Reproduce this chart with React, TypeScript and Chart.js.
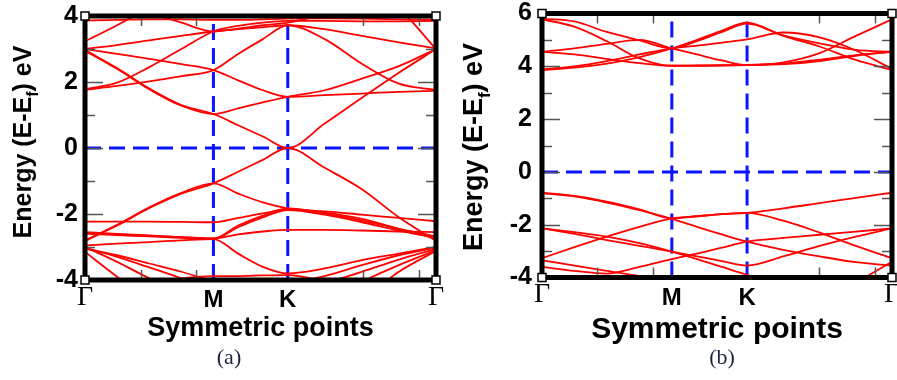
import React, { useEffect, useRef } from 'react';
import { Chart, registerables } from 'chart.js';

Chart.register(...registerables);

// ---------- axes / path ----------
const symLabels = ['Γ', 'M', 'K', 'Γ'];
const symKA = [0, 0.577, 0.911, 1.577];
const symKB = [0, 0.585, 0.924, 1.577];
const xMinorTicks = [0.25, 0.5, 1.25, 1.5];
const yTicksA = [-4, -2, 0, 2, 4];
const yTicksB = [-4, -2, 0, 2, 4, 6];

// k sampling along Γ-M-K-Γ
const kGridA = [0, 0.144, 0.289, 0.433, 0.577, 0.688, 0.799, 0.911, 1.077, 1.244, 1.41, 1.577];
const kGridB = [0, 0.146, 0.292, 0.439, 0.585, 0.698, 0.811, 0.924, 1.087, 1.251, 1.414, 1.577];

// ---------- panel (a) bands (eV) ----------
const aC1 = [2.97, 2.42, 1.8, 1.3, 1.03, 0.69, 0.35, 0.0, 0.74, 1.52, 2.28, 3.0];
const aC2 = [3.0, 2.85, 2.7, 2.54, 2.36, 2.05, 1.75, 1.55, 1.6, 1.65, 1.7, 1.73];
const aC3 = [1.76, 1.88, 2.02, 2.18, 2.36, 2.85, 3.3, 3.72, 3.3, 2.55, 1.95, 1.76];
const aC4 = [2.95, 2.4, 1.78, 1.28, 1.03, 1.2, 1.38, 1.55, 1.75, 2.1, 2.48, 3.0];
const aC5 = [3.0, 3.12, 3.26, 3.4, 3.53, 3.6, 3.66, 3.72, 3.6, 3.4, 3.2, 3.02];
const aC6 = [3.86, 3.88, 3.9, 3.9, 3.88, 3.88, 3.9, 3.92, 3.93, 3.92, 3.9, 3.88];
const aC7 = [3.23, 3.72, 4.25, 4.8, 5.2, 5.2, 5.2, 5.2, 5.2, 5.2, 5.2, 5.2];
const aC8 = [1.78, 1.98, 2.45, 3.0, 3.53, 3.7, 3.8, 3.85, 3.85, 3.84, 3.84, 3.85];
const aC9 = [5.2, 5.2, 5.2, 5.2, 5.2, 5.2, 5.2, 5.2, 5.0, 4.6, 4.2, 3.0];
const aC10 = [4.6, 4.4, 4.1, 3.8, 3.53, 3.62, 3.72, 3.8, 4.05, 4.3, 4.6, 4.8];

const aV1 = [-2.82, -2.35, -1.82, -1.38, -1.07, -0.72, -0.36, 0.0, -0.6, -1.25, -2.1, -2.82];
const aV2 = [-2.8, -2.33, -1.8, -1.36, -1.07, -1.38, -1.65, -1.83, -1.95, -2.15, -2.45, -2.75];
const aV3 = [-2.55, -2.6, -2.65, -2.7, -2.74, -2.35, -2.05, -1.83, -1.98, -2.2, -2.45, -2.68];
const aV4 = [-2.6, -2.64, -2.68, -2.72, -2.76, -2.4, -2.1, -1.88, -2.02, -2.25, -2.5, -2.72];
const aV5 = [-2.23, -2.23, -2.23, -2.24, -2.25, -2.12, -1.98, -1.87, -1.92, -2.02, -2.12, -2.22];
const aV6 = [-2.58, -2.62, -2.66, -2.7, -2.74, -2.62, -2.53, -2.48, -2.48, -2.5, -2.53, -2.55];
const aV7 = [-2.95, -2.9, -2.85, -2.8, -2.76, -3.2, -3.6, -3.8, -3.65, -3.4, -3.2, -3.0];
const aV8 = [-3.0, -3.45, -3.95, -4.4, -5, -5, -5, -5, -5, -5, -5, -5];
const aV9 = [-3.05, -3.25, -3.5, -3.75, -4.05, -4.3, -4.5, -5, -5, -5, -5, -5];
const aV10 = [-3.02, -3.3, -3.62, -3.95, -4.3, -5, -5, -5, -5, -5, -5, -5];
const aV11 = [-4.6, -4.3, -4.1, -3.95, -3.88, -3.88, -3.86, -3.85, -4.05, -4.4, -5, -5];
const aV12 = [-5, -5, -5, -5, -5, -4.5, -4.3, -4.1, -3.88, -3.55, -3.25, -3.02];
const aV13 = [-5, -5, -5, -5, -5, -5, -4.6, -4.4, -4.1, -3.75, -3.38, -3.06];
const aV14 = [-5, -5, -5, -5, -5, -5, -5, -5, -4.6, -4.05, -3.55, -3.1];
const aV15 = [-3.15, -3.9, -4.6, -5, -5, -5, -5, -5, -5, -5, -5, -5];
const aV16 = [-5, -5, -5, -5, -5, -5, -5, -5, -5, -4.6, -3.75, -3.12];

// ---------- panel (b) bands (eV) ----------
const bC1 = [3.86, 3.95, 4.1, 4.35, 4.68, 5.0, 5.35, 5.65, 5.15, 4.75, 4.24, 3.86];
const bC2 = [3.88, 4.0, 4.2, 4.45, 4.68, 4.78, 4.9, 5.02, 5.28, 5.1, 4.6, 3.9];
const bC3 = [4.55, 4.68, 4.85, 5.0, 4.68, 4.45, 4.22, 4.05, 4.15, 4.5, 5.15, 5.78];
const bC4 = [4.55, 4.45, 4.28, 4.12, 4.02, 4.02, 4.03, 4.05, 4.1, 4.25, 4.42, 4.55];
const bC5 = [5.8, 5.7, 5.3, 4.98, 4.68, 4.95, 5.3, 5.62, 5.17, 4.87, 4.62, 4.55];
const bC6 = [5.78, 5.5, 4.95, 4.3, 4.02, 4.03, 4.04, 4.05, 4.08, 4.2, 4.4, 4.56];

const bV1 = [-0.79, -0.91, -1.13, -1.42, -1.76, -1.68, -1.6, -1.55, -1.38, -1.18, -0.98, -0.79];
const bV2 = [-3.27, -2.85, -2.45, -2.08, -1.76, -1.68, -1.6, -1.55, -1.85, -2.3, -2.8, -3.27];
const bV3 = [-0.8, -0.93, -1.16, -1.45, -1.78, -2.08, -2.37, -2.64, -2.95, -3.2, -3.42, -3.55];
const bV4 = [-2.14, -2.35, -2.58, -2.8, -3.02, -3.2, -3.38, -3.55, -3.2, -2.8, -2.45, -2.14];
const bV5 = [-3.6, -3.75, -3.85, -3.6, -3.3, -3.1, -2.87, -2.64, -2.5, -2.38, -2.26, -2.14];
const bV6 = [-3.35, -3.55, -3.75, -3.95, -4.3, -4.6, -5, -5, -5, -5, -4.2, -3.4];
const bV7 = [-2.14, -2.28, -2.45, -2.7, -3.02, -3.3, -3.6, -3.9, -4.3, -5, -5, -5];

const bandsA = [aC1, aC2, aC3, aC4, aC5, aC6, aC7, aC8, aC9, aC10,
  aV1, aV2, aV3, aV4, aV5, aV6, aV7, aV8, aV9, aV10, aV11, aV12, aV13, aV14, aV15, aV16];
const bandsB = [bC1, bC2, bC3, bC4, bC5, bC6, bV1, bV2, bV3, bV4, bV5, bV6, bV7];

// ---------- styling ----------
const RED = '#ff0000';
const BLUE = '#0a14ff';
const SANS = '"Liberation Sans", Arial, Helvetica, sans-serif';
const SERIF = '"Liberation Serif", "Times New Roman", serif';

const framePlugin = {
  id: 'bandFrame',
  afterDatasetsDraw(chart: any, _args: any, o: any) {
    const { ctx, chartArea: a } = chart;
    const xs = chart.scales.x;
    const ys = chart.scales.y;
    ctx.save();
    // inward ticks
    ctx.strokeStyle = '#555';
    ctx.lineWidth = 1.5;
    ctx.beginPath();
    for (let v = ys.min + 1; v < ys.max; v++) {
      const py = Math.round(ys.getPixelForValue(v)) + 0.5;
      const len = v % 2 === 0 ? 18 : 10;
      ctx.moveTo(a.left, py); ctx.lineTo(a.left + len, py);
      ctx.moveTo(a.right, py); ctx.lineTo(a.right - len, py);
    }
    for (const k of o.xMinor) {
      const px = Math.round(xs.getPixelForValue(k)) + 0.5;
      ctx.moveTo(px, a.top); ctx.lineTo(px, a.top + 10);
      ctx.moveTo(px, a.bottom); ctx.lineTo(px, a.bottom - 10);
    }
    ctx.stroke();
    // frame
    ctx.strokeStyle = '#000';
    ctx.lineWidth = 5;
    ctx.strokeRect(a.left, a.top, a.right - a.left, a.bottom - a.top);
    // corner squares
    ctx.lineWidth = 1.5;
    for (const [cx, cy] of [[a.left, a.top], [a.right, a.top], [a.left, a.bottom], [a.right, a.bottom]]) {
      ctx.fillStyle = '#fff';
      ctx.fillRect(cx - 4, cy - 4, 8, 8);
      ctx.strokeRect(cx - 4, cy - 4, 8, 8);
    }
    // y-axis title with subscript
    ctx.save();
    ctx.translate(o.titleX, o.titleY);
    ctx.rotate(-Math.PI / 2);
    ctx.fillStyle = '#000';
    ctx.textBaseline = 'alphabetic';
    const big = `bold ${o.titleSize}px ${SANS}`;
    const small = `bold ${Math.round(o.titleSize * 0.62)}px ${SANS}`;
    const p1 = 'Energy (E-E';
    const p2 = 'f';
    const p3 = ') eV';
    ctx.font = big;
    const w1 = ctx.measureText(p1).width;
    const w3 = ctx.measureText(p3).width;
    ctx.font = small;
    const w2 = ctx.measureText(p2).width;
    const x0 = -(w1 + w2 + w3) / 2;
    ctx.font = big;
    ctx.fillText(p1, x0, 0);
    ctx.font = small;
    ctx.fillText(p2, x0 + w1, o.titleSize * 0.28);
    ctx.font = big;
    ctx.fillText(p3, x0 + w1 + w2, 0);
    ctx.restore();
    // caption
    ctx.fillStyle = '#1c2340';
    ctx.font = `${o.capSize}px ${SERIF}`;
    ctx.textAlign = 'center';
    ctx.textBaseline = 'middle';
    ctx.fillText(o.caption, o.capX, o.capY);
    ctx.restore();
  },
};

type PanelSpec = {
  width: number;
  kGrid: number[];
  bands: number[][];
  symK: number[];
  yTicks: number[];
  top: number;
  bottom: number;
  left: number;
  right: number;
  tickSize: number;
  tickPad: number;
  xTitleSize: number;
  xTitlePad: number;
  titleX: number;
  titleY: number;
  titleSize: number;
  caption: string;
  capX: number;
  capY: number;
};

function buildConfig(p: PanelSpec): any {
  const yMin = p.yTicks[0];
  const yMax = p.yTicks[p.yTicks.length - 1];
  const datasets: any[] = p.bands.map((b) => ({
    data: p.kGrid.map((k, i) => ({ x: k, y: b[i] })),
    borderColor: RED,
    borderWidth: 1.8,
    pointRadius: 0,
    fill: false,
    cubicInterpolationMode: 'monotone',
    order: 0,
  }));
  const dash = { borderColor: BLUE, borderWidth: 3, borderDash: [16, 8], pointRadius: 0, fill: false, order: 1 };
  datasets.push({ ...dash, data: [{ x: p.symK[1], y: yMin }, { x: p.symK[1], y: yMax }] });
  datasets.push({ ...dash, data: [{ x: p.symK[2], y: yMin }, { x: p.symK[2], y: yMax }] });
  datasets.push({ ...dash, data: [{ x: p.symK[0], y: 0 }, { x: p.symK[3], y: 0 }] });

  return {
    type: 'line',
    data: { datasets },
    options: {
      responsive: false,
      animation: false,
      devicePixelRatio: 1,
      events: [],
      layout: { padding: { left: 0, right: p.width - p.right, top: p.top, bottom: 0 } },
      plugins: {
        legend: { display: false },
        tooltip: { enabled: false },
        bandFrame: {
          xMinor: xMinorTicks,
          titleX: p.titleX,
          titleY: p.titleY,
          titleSize: p.titleSize,
          caption: p.caption,
          capX: p.capX,
          capY: p.capY,
          capSize: 22,
        },
      },
      scales: {
        x: {
          type: 'linear',
          min: p.symK[0],
          max: p.symK[3],
          grid: { display: false, drawTicks: false },
          border: { display: false },
          afterBuildTicks: (s: any) => {
            s.ticks = p.symK.map((v) => ({ value: v }));
          },
          afterFit: (s: any) => {
            s.height = 380 - p.bottom;
            s.paddingLeft = 0;
            s.paddingRight = 0;
          },
          ticks: {
            autoSkip: false,
            maxRotation: 0,
            minRotation: 0,
            padding: 6,
            color: '#000',
            callback: (_v: any, i: number) => symLabels[i],
            font: (c: any) =>
              c.index === 0 || c.index === 3
                ? { family: SERIF, size: 28, weight: 'normal', lineHeight: 0.82 }
                : { family: SANS, size: 24, weight: 'bold', lineHeight: 1.2 },
          },
          title: {
            display: true,
            text: 'Symmetric points',
            color: '#000',
            font: { family: SANS, size: p.xTitleSize, weight: 'bold', lineHeight: 1.2 },
            padding: { top: 0, bottom: p.xTitlePad },
          },
        },
        y: {
          type: 'linear',
          min: yMin,
          max: yMax,
          grid: { display: false, drawTicks: false },
          border: { display: false },
          afterBuildTicks: (s: any) => {
            s.ticks = p.yTicks.map((v) => ({ value: v }));
          },
          afterFit: (s: any) => {
            s.width = p.left;
            s.paddingTop = 0;
            s.paddingBottom = 0;
          },
          ticks: {
            padding: p.tickPad,
            color: '#000',
            font: { family: SANS, size: p.tickSize, weight: 'bold' },
            callback: (v: any) => String(v),
          },
        },
      },
    },
    plugins: [framePlugin],
  };
}

const panelA: PanelSpec = {
  width: 450, kGrid: kGridA, bands: bandsA, symK: symKA, yTicks: yTicksA,
  top: 16, bottom: 280, left: 85, right: 436,
  tickSize: 25, tickPad: 7, xTitleSize: 27, xTitlePad: 35,
  titleX: 31, titleY: 142, titleSize: 25,
  caption: '(a)', capX: 229, capY: 358,
};

const panelB: PanelSpec = {
  width: 447, kGrid: kGridB, bands: bandsB, symK: symKB, yTicks: yTicksB,
  top: 13.5, bottom: 277.5, left: 92, right: 442,
  tickSize: 25, tickPad: 10, xTitleSize: 30, xTitlePad: 32,
  titleX: 32, titleY: 147, titleSize: 27,
  caption: '(b)', capX: 272, capY: 358,
};

function Panel({ spec, left }: { spec: PanelSpec; left: number }) {
  const ref = useRef<HTMLCanvasElement | null>(null);
  useEffect(() => {
    if (!ref.current) return;
    const chart = new Chart(ref.current, buildConfig(spec));
    return () => chart.destroy();
  }, [spec]);
  return (
    <canvas
      ref={ref}
      width={spec.width}
      height={380}
      style={{ position: 'absolute', left, top: 0, width: spec.width, height: 380 }}
    />
  );
}

export default function App() {
  return (
    <div style={{ position: 'absolute', left: 0, top: 0, width: 897, height: 380, background: '#fff', overflow: 'hidden' }}>
      <Panel spec={panelA} left={0} />
      <Panel spec={panelB} left={450} />
    </div>
  );
}
